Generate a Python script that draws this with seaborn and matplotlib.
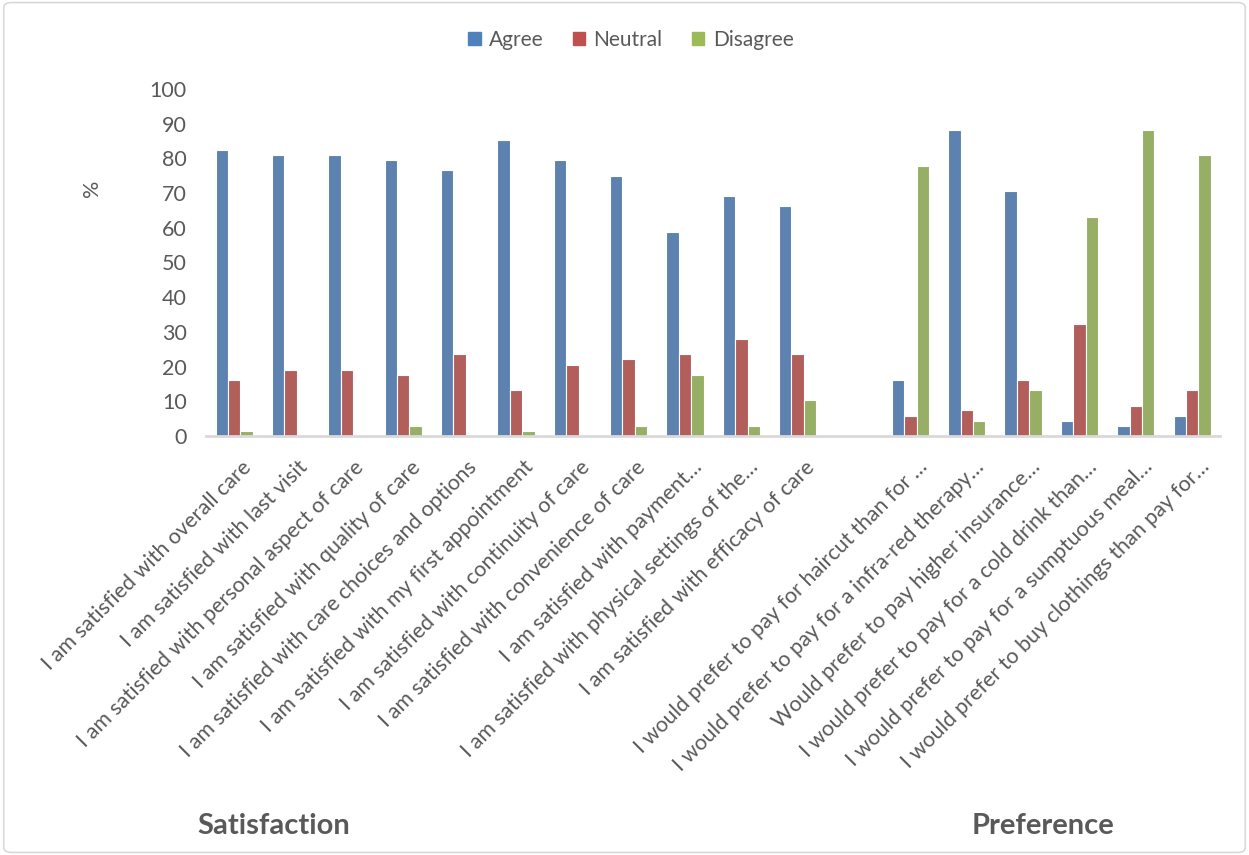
import matplotlib
matplotlib.use("Agg")
import matplotlib.pyplot as plt
import matplotlib.transforms as mtransforms
import seaborn as sns
import pandas as pd
from matplotlib.patches import FancyBboxPatch

satisfaction_items = [
    "I am satisfied with overall care",
    "I am satisfied with last visit",
    "I am satisfied with personal aspect of care",
    "I am satisfied with quality of care",
    "I am satisfied with care choices and options",
    "I am satisfied with my first appointment",
    "I am satisfied with continuity of care",
    "I am satisfied with convenience of care",
    "I am satisfied with payment…",
    "I am satisfied with physical settings of the…",
    "I am satisfied with efficacy of care",
]
preference_items = [
    "I would prefer to pay for haircut than for …",
    "I would prefer to pay for a infra-red therapy…",
    "Would prefer to pay higher insurance…",
    "I would prefer to pay for a cold drink than…",
    "I would prefer to pay for a sumptuous meal…",
    "I would prefer to buy clothings than pay for…",
]

agree = [82.4, 80.9, 80.9, 79.4, 76.5, 85.3, 79.4, 75.0, 58.8, 69.1, 66.2,
         16.2, 88.2, 70.6, 4.4, 2.9, 5.9]
neutral = [16.2, 19.1, 19.1, 17.6, 23.5, 13.2, 20.6, 22.1, 23.5, 27.9, 23.5,
           5.9, 7.4, 16.2, 32.4, 8.8, 13.2]
disagree = [1.5, 0, 0, 2.9, 0, 1.5, 0, 2.9, 17.6, 2.9, 10.3,
            77.9, 4.4, 13.2, 63.2, 88.2, 80.9]

responses = ["Agree", "Neutral", "Disagree"]
colors = ["#4F81BD", "#C0504D", "#9BBB59"]

items = satisfaction_items + preference_items
gap = " "
order = satisfaction_items + [gap] + preference_items

df = pd.DataFrame({
    "item": items * 3,
    "response": [r for r in responses for _ in items],
    "value": agree + neutral + disagree,
})

sns.set_style("white")
plt.rcParams["font.family"] = ["Lato", "DejaVu Sans"]
grey = "#595959"

fig = plt.figure(figsize=(12.49, 8.55), dpi=100)
ax = fig.add_axes([0.165, 0.49, 0.812, 0.406])

sns.barplot(data=df, x="item", y="value", hue="response", order=order,
            hue_order=responses, palette=colors, width=0.66,
            edgecolor="white", linewidth=0.8, legend=False, ax=ax)

ax.set_ylim(0, 100)
ax.set_yticks(range(0, 101, 10))
ax.tick_params(axis="y", labelsize=15.5, labelcolor=grey, length=0, pad=14)
ax.tick_params(axis="x", length=0, pad=15)
ax.set_xticks(range(len(order)))
ax.set_xticklabels(order, rotation=45, ha="right", rotation_mode="anchor",
                   fontsize=15.5, color=grey)
shift = mtransforms.ScaledTranslation(0.07, 0, fig.dpi_scale_trans)
for lab in ax.get_xticklabels():
    lab.set_transform(lab.get_transform() + shift)
ax.set_xlabel("")
ax.set_ylabel("")
for side in ["top", "right", "left"]:
    ax.spines[side].set_visible(False)
ax.spines["bottom"].set_color("#d9d9d9")
ax.spines["bottom"].set_linewidth(2)

fig.text(0.074, 0.78, "%", rotation=90, fontsize=15.5, color=grey,
         ha="center", va="center")

handles = [plt.Rectangle((0, 0), 1, 1, color=c) for c in colors]
fig.legend(handles, responses, loc="center", bbox_to_anchor=(0.505, 0.953),
           ncol=3, frameon=False, fontsize=15, handlelength=0.6,
           handleheight=0.6, handletextpad=0.4, columnspacing=1.4,
           labelcolor=grey)

fig.text(0.219, 0.034, "Satisfaction", fontsize=21, fontweight="bold",
         color=grey, ha="center", va="center")
fig.text(0.835, 0.034, "Preference", fontsize=21, fontweight="bold",
         color=grey, ha="center", va="center")

fig.patches.append(FancyBboxPatch((0.003, 0.003), 0.994, 0.994,
                                  boxstyle="round,pad=0,rounding_size=0.006",
                                  transform=fig.transFigure, fill=False,
                                  edgecolor="#d9d9d9", linewidth=1.2))

fig.savefig("out.png", dpi=100)
